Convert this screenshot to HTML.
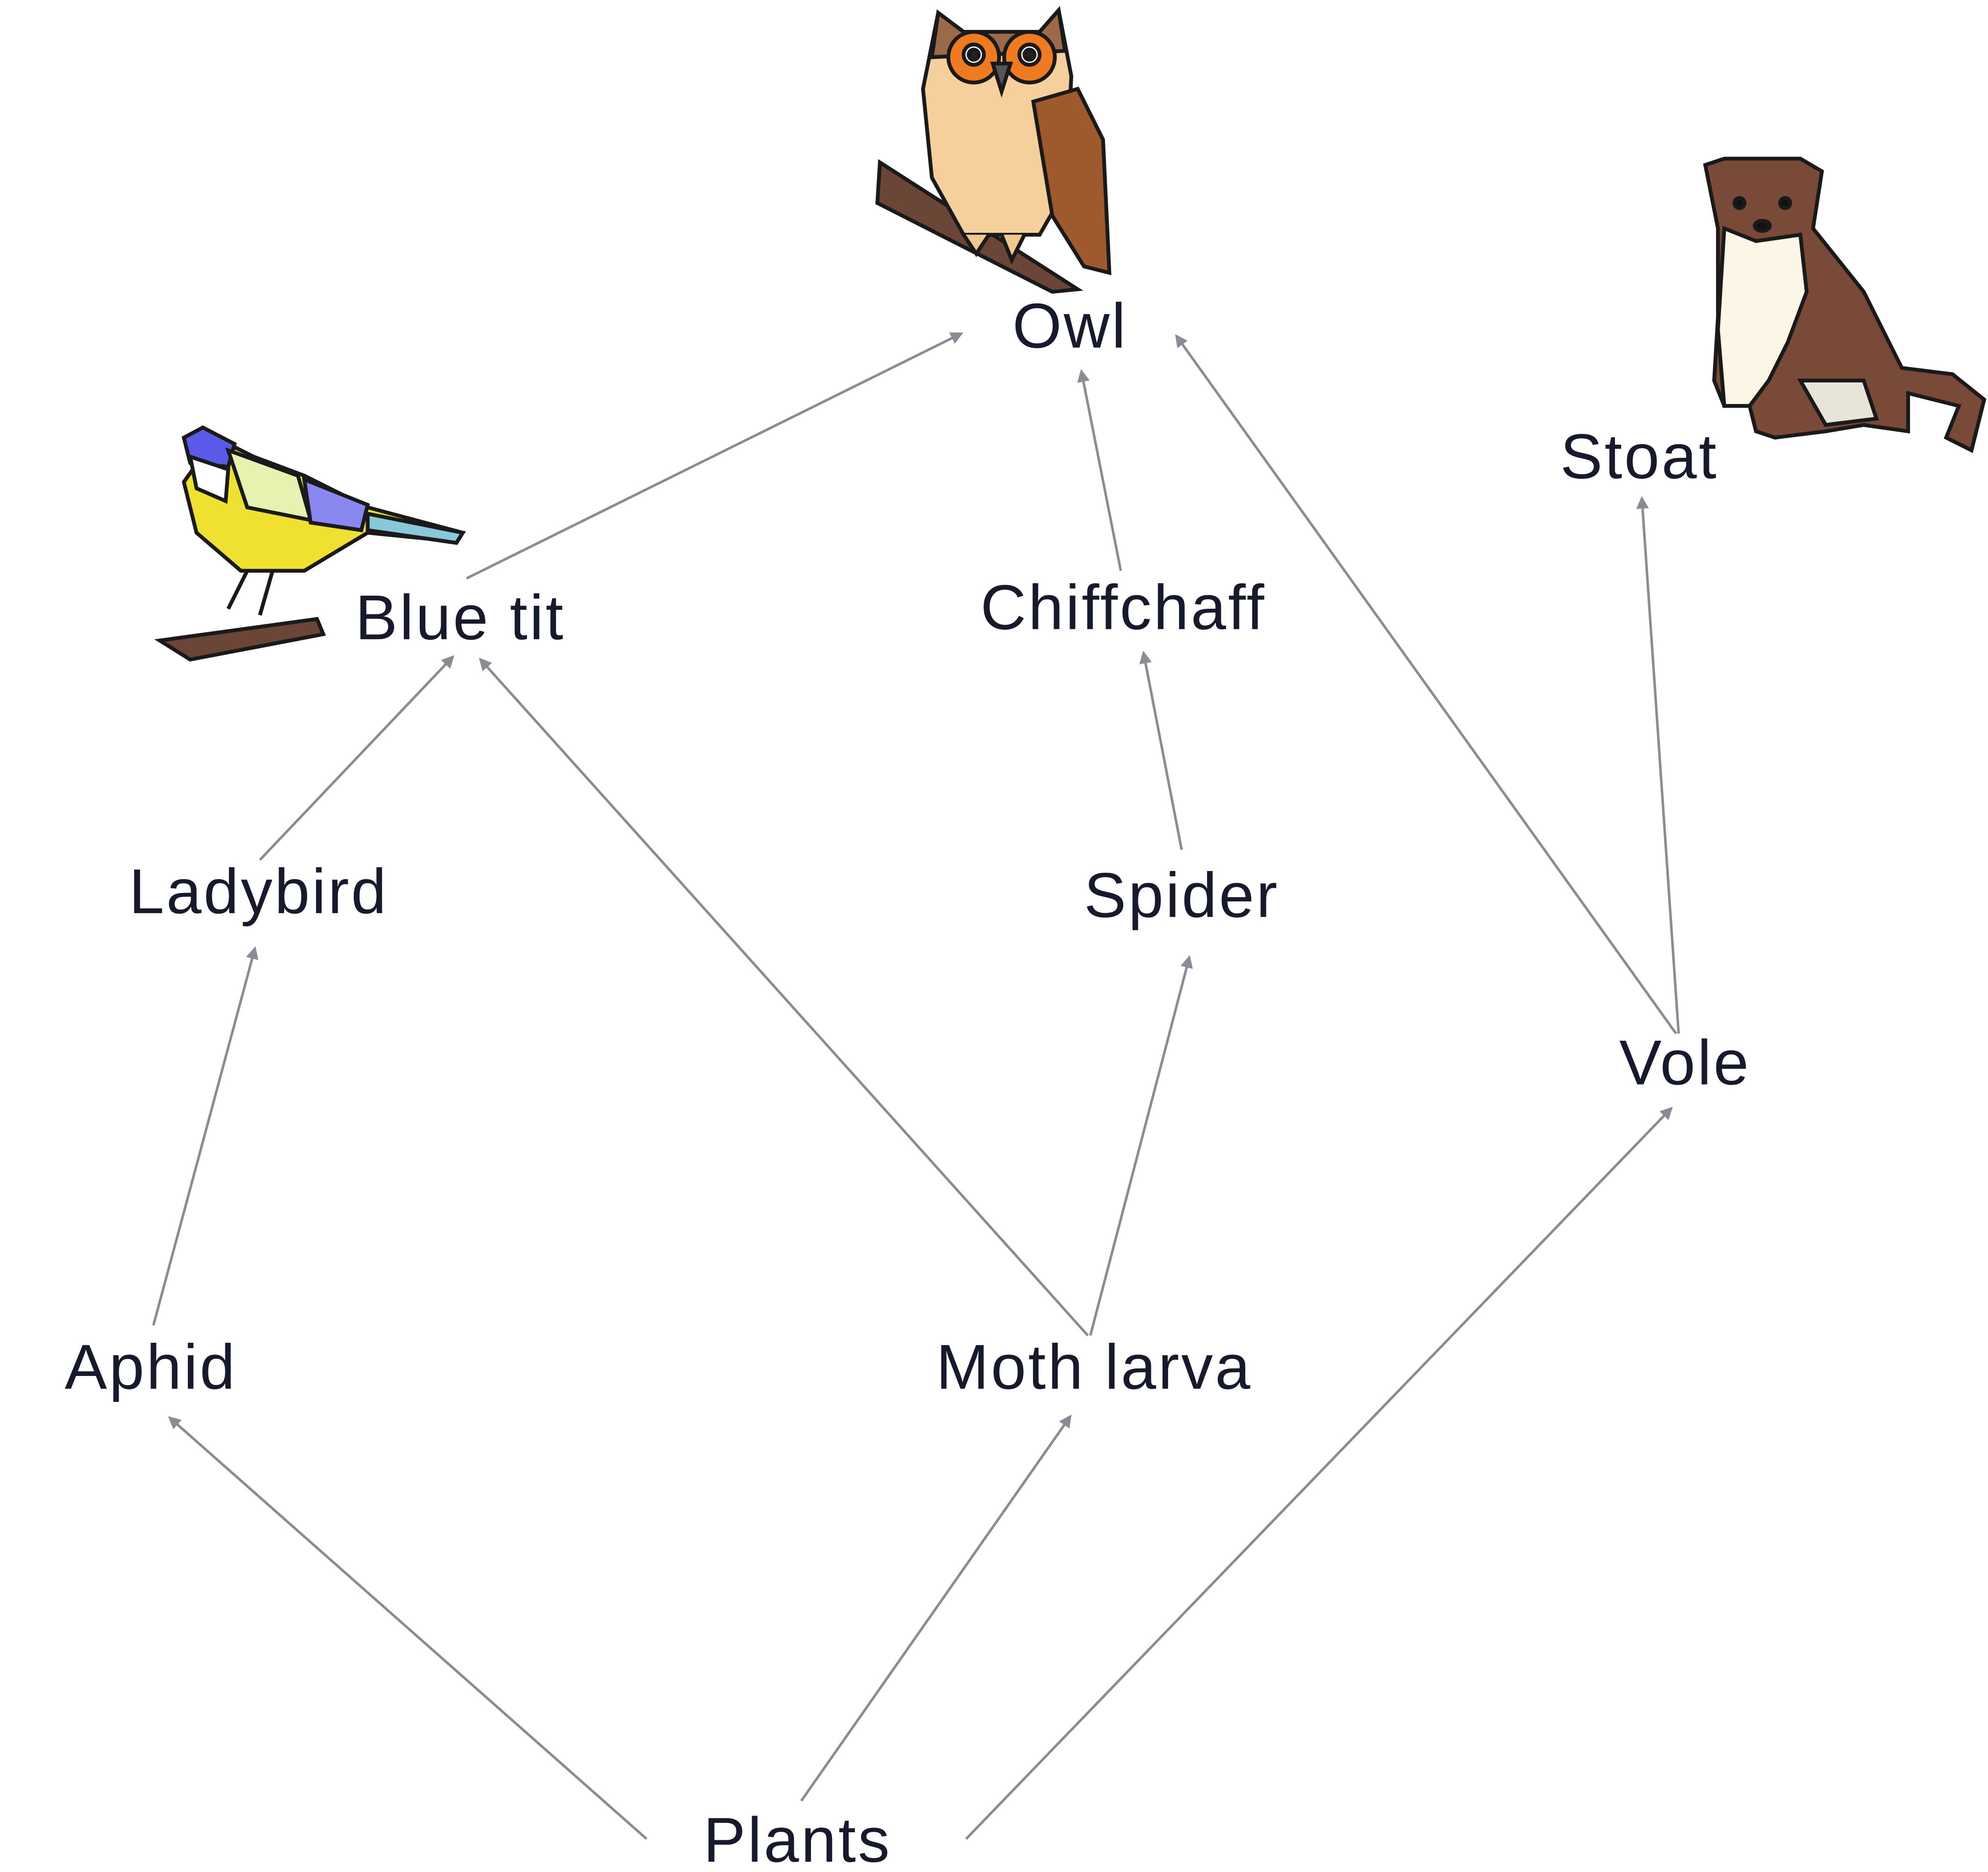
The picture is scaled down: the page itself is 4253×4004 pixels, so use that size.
<!DOCTYPE html>
<html><head><meta charset="utf-8"><style>
html,body{margin:0;padding:0;background:#fff;}
svg{display:block}
text{font-family:"Liberation Sans",sans-serif;font-size:50px;letter-spacing:1.6px;fill:#161a2c;text-anchor:middle}
</style></head><body>
<svg width="4253" height="4004" viewBox="0 0 1568 1476" xmlns="http://www.w3.org/2000/svg">
<defs>
<marker id="a" markerWidth="10" markerHeight="10" refX="8" refY="5" orient="auto" markerUnits="userSpaceOnUse">
<path d="M0,0 L10,5 L0,10 Z" fill="#8a8b94"/></marker>
</defs>
<g stroke="#8a8b94" stroke-width="2" fill="none" marker-end="url(#a)">
<line x1="368" y1="456" x2="758" y2="263"/>
<line x1="884" y1="450" x2="853" y2="293"/>
<line x1="1322" y1="815" x2="928" y2="265"/>
<line x1="1324" y1="815" x2="1295" y2="393"/>
<line x1="205" y1="678" x2="357" y2="518"/>
<line x1="858" y1="1053" x2="379" y2="520"/>
<line x1="932" y1="670" x2="902" y2="515"/>
<line x1="860" y1="1053" x2="938" y2="755"/>
<line x1="121" y1="1045" x2="201" y2="748"/>
<line x1="510" y1="1450" x2="134" y2="1118"/>
<line x1="632" y1="1420" x2="844" y2="1117"/>
<line x1="762" y1="1450" x2="1318" y2="874"/>
</g>
<text x="844" y="274">Owl</text>
<text x="1293" y="377">Stoat</text>
<text x="363" y="504">Blue tit</text>
<text x="886" y="496">Chiffchaff</text>
<text x="204" y="720">Ladybird</text>
<text x="932" y="723">Spider</text>
<text x="1329" y="855">Vole</text>
<text x="119" y="1095">Aphid</text>
<text x="863" y="1095">Moth larva</text>
<text x="629" y="1468">Plants</text>

<!-- Owl -->
<g stroke="#1a1a1a" stroke-width="3">
<path d="M694,128 L850,228 L830,230 L692,160 Z" fill="#6b4636"/>
<path d="M740,10 L760,25 L820,25 L835,8 L845,60 L840,150 L820,185 L760,185 L735,140 L728,70 Z" fill="#f5cf9c"/>
<path d="M740,10 L760,25 L820,25 L835,8 L840,40 L735,45 Z" fill="#9a6a4a"/>
<circle cx="768" cy="45" r="20" fill="#f07a20"/><circle cx="812" cy="45" r="20" fill="#f07a20"/>
<circle cx="768" cy="43" r="8" fill="#fff"/><circle cx="812" cy="43" r="8" fill="#fff"/>
<circle cx="768" cy="43" r="4" fill="#222"/><circle cx="812" cy="43" r="4" fill="#222"/>
<path d="M783,50 L797,50 L790,72 Z" fill="#555"/>
<path d="M815,80 L850,70 L870,110 L875,215 L855,210 L830,170 Z" fill="#9e5a2c"/>
<path d="M760,185 L770,200 L780,185 M790,185 L798,205 L808,185" fill="#f0c890"/>
</g>
<!-- Blue tit -->
<g stroke="#1a1a1a" stroke-width="3">
<path d="M126,505 L250,488 L255,500 L150,520 Z" fill="#6b4636"/>
<path d="M145,380 L170,345 L200,360 L240,375 L290,400 L365,420 L360,427 L290,420 L240,450 L190,450 L155,420 Z" fill="#f0e030"/>
<path d="M145,345 L160,337 L185,350 L180,368 L150,365 Z" fill="#5a5ae8"/>
<path d="M180,355 L235,375 L245,410 L195,400 Z" fill="#e8f2b0"/>
<path d="M240,378 L290,398 L285,418 L245,412 Z" fill="#8888f0"/>
<path d="M290,405 L365,420 L360,428 L290,418 Z" fill="#88c8d8"/>
<path d="M150,360 L180,370 L178,395 L155,385 Z" fill="#fff"/>
<path d="M195,450 L180,480 M215,450 L205,485" fill="none"/>
</g>
<!-- Stoat -->
<g stroke="#1a1a1a" stroke-width="3">
<path d="M1345,130 L1360,125 L1420,125 L1437,135 L1430,180 L1470,230 L1500,290 L1540,295 L1565,315 L1555,355 L1535,345 L1545,320 L1505,310 L1505,340 L1470,335 L1440,340 L1400,345 L1385,340 L1380,320 L1360,320 L1352,300 L1355,250 L1355,180 Z" fill="#7a4a38"/>
<path d="M1360,180 L1385,190 L1420,185 L1425,230 L1410,270 L1395,300 L1380,320 L1360,320 L1355,260 Z" fill="#fbf6e6"/>
<path d="M1420,300 L1470,300 L1480,330 L1440,335 Z" fill="#e8e4d8"/>
<circle cx="1372" cy="160" r="4" fill="#111"/><circle cx="1408" cy="160" r="4" fill="#111"/>
<ellipse cx="1390" cy="178" rx="6" ry="4" fill="#111"/>
</g>
</svg>
</body></html>
